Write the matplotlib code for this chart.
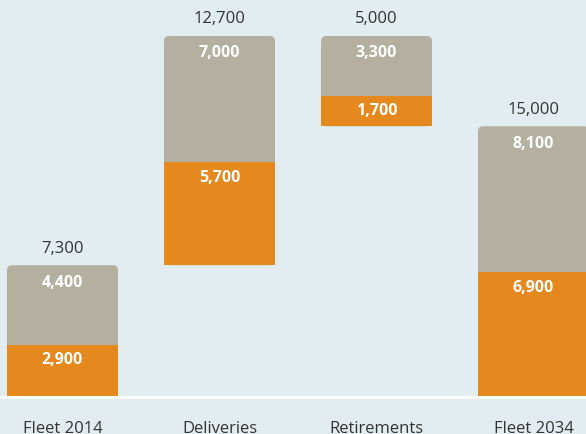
import matplotlib
matplotlib.use("Agg")
import matplotlib.pyplot as plt
from matplotlib.patches import FancyBboxPatch, Rectangle

categories = ["Fleet 2014", "Deliveries", "Retirements", "Fleet 2034"]
orange_vals = [2900, 5700, 1700, 6900]
gray_vals = [4400, 7000, 3300, 8100]
totals = [7300, 12700, 5000, 15000]

# waterfall bases: start fleet, add deliveries, take off retirements, end fleet
bases = [0, totals[0], totals[0] + totals[1] - totals[2], 0]

BG = "#e2edf2"
ORANGE = "#e5891e"
GRAY = "#b5afa0"
DARK = "#333333"

plt.rcParams["font.family"] = ["Open Sans", "DejaVu Sans"]

fig = plt.figure(figsize=(5.86, 4.34), dpi=100, facecolor=BG)
ax = fig.add_axes([0, 0, 1, 1], facecolor=BG)

xpx_step = 157.0
ax.set_xlim(-62.5 / xpx_step, (586 - 62.5) / xpx_step)
ax.set_ylim(-37 / 361 * 20000, (434 - 37) / 361 * 20000)
ax.axis("off")

width = 111 / xpx_step
rx = 5 / xpx_step
ry = 5 * 20000 / 361

for i, cat in enumerate(categories):
    b = bases[i]
    tot = totals[i]
    top = b + tot
    # gray body with rounded top corners, orange square block drawn over the bottom
    box = FancyBboxPatch((i - width / 2, b), width, tot,
                         boxstyle="round,pad=0,rounding_size=%f" % rx,
                         mutation_aspect=ry / rx, facecolor=GRAY, edgecolor="none", zorder=2)
    ax.add_patch(box)
    ax.add_patch(Rectangle((i - width / 2, b), width, ry * 1.5, facecolor=GRAY,
                           edgecolor="none", zorder=2))
    ax.add_patch(Rectangle((i - width / 2, b), width, orange_vals[i], facecolor=ORANGE,
                           edgecolor="none", zorder=3))

    ax.annotate(f"{gray_vals[i]:,}", (i, top), xytext=(0, -12.5), textcoords="offset points",
                ha="center", va="center", color="white", fontsize=11.5, fontweight="bold", zorder=4)
    ax.annotate(f"{orange_vals[i]:,}", (i, b + orange_vals[i]), xytext=(0, -11),
                textcoords="offset points", ha="center", va="center", color="white",
                fontsize=11.5, fontweight="bold", zorder=4)
    ax.annotate(f"{tot:,}", (i, top), xytext=(0, 12), textcoords="offset points",
                ha="center", va="center", color=DARK, fontsize=12, zorder=4)
    # the reference crops these at the bottom edge, kept that way
    ax.annotate(cat, (i, 0), xytext=(0, -23), textcoords="offset points",
                ha="center", va="center", color=DARK, fontsize=12, zorder=4)

ax.axhline(0, color="white", lw=2.2, zorder=5)

fig.savefig("out.png", dpi=100, facecolor=BG)
